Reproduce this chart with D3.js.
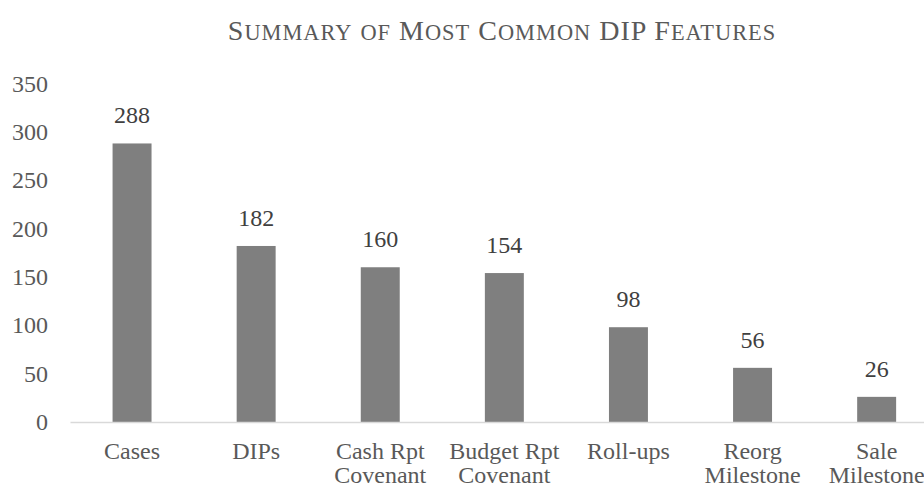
<!DOCTYPE html>
<html>
<head>
	<title>DIP Features</title>
	<meta charset="UTF-8">
	<script src="https://d3js.org/d3.v7.min.js"></script>
	<style type="text/css">
		body { margin: 0; background: #fff; }
		text { font-family: "Liberation Serif", "Times New Roman", serif; }
		.axis text { fill: #595959; font-size: 24px; }
		.x.axis path { stroke: #d9d9d9; stroke-width: 1.5; }
	</style>
</head>
<body>
<script type="text/javascript">

	// chart data
	var categories = ["Cases", "DIPs", "Cash Rpt\nCovenant", "Budget Rpt\nCovenant", "Roll-ups", "Reorg\nMilestone", "Sale\nMilestone"];
	var counts = [288, 182, 160, 154, 98, 56, 26];
	var yTicks = [0, 50, 100, 150, 200, 250, 300, 350];

	var width = 924, height = 487;
	var plotLeft = 70, step = 124.1, base = 422, plotTop = 83.5;

	var svg = d3.select("body").append("svg")
		.attr("width", width)
		.attr("height", height);

	//=======SCALE======================================================================
	var x = d3.scaleBand()
		.domain(categories)
		.range([plotLeft, plotLeft + step * categories.length])
		.padding(0);

	var y = d3.scaleLinear()
		.domain([0, 350])
		.range([base, plotTop]);

	var barW = x.bandwidth() * 0.314;

	//======TITLE======================================================================
	// small caps done by hand: first letters big, rest smaller uppercase
	var title = svg.append("text")
		.attr("x", 502)
		.attr("y", 40)
		.attr("text-anchor", "middle")
		.attr("letter-spacing", 1)
		.attr("fill", "#595959");
	var words = ["Summary", "of", "Most", "Common", "DIP", "Features"];
	words.forEach(function(w, i) {
		var big = (w == "DIP") ? w : (w == "of" ? "" : w[0]);
		var rest = w.slice(big.length).toUpperCase();
		if (big) title.append("tspan").attr("font-size", 28).text((i > 0 ? " " : "") + big);
		else title.append("tspan").attr("font-size", 28).text(" ");
		if (rest) title.append("tspan").attr("font-size", 22.4).text(rest);
	});

	//====AXES================================================================
	var xAxis = svg.append("g")
		.attr("class", "x axis")
		.attr("transform", "translate(0," + base + ")")
		.call(d3.axisBottom(x).tickSize(0).tickSizeOuter(0));

	xAxis.selectAll(".tick text").each(function(d) {
		var t = d3.select(this).text(null).attr("y", 0).attr("dy", null);
		d.split("\n").forEach(function(line, i) {
			t.append("tspan").attr("x", 0).attr("y", 37 + i * 24).text(line);
		});
	});

	var yAxis = svg.append("g")
		.attr("class", "y axis")
		.attr("transform", "translate(" + plotLeft + ",0)")
		.call(d3.axisLeft(y).tickValues(yTicks).tickSize(0).tickPadding(22));
	yAxis.select(".domain").remove();

	//==BARS==================================================================
	var data = categories.map(function(c, i) { return {cat: c, val: counts[i]}; });

	svg.selectAll(".bar")
		.data(data)
		.enter().append("rect")
		.attr("class", "bar")
		.attr("x", function(d) { return x(d.cat) + (x.bandwidth() - barW) / 2; })
		.attr("y", function(d) { return y(d.val); })
		.attr("width", barW)
		.attr("height", function(d) { return base - y(d.val); })
		.attr("fill", "#7f7f7f");

	svg.selectAll(".lbl")
		.data(data)
		.enter().append("text")
		.attr("class", "lbl")
		.attr("x", function(d) { return x(d.cat) + x.bandwidth() / 2; })
		.attr("y", function(d) { return y(d.val) - 20; })
		.attr("text-anchor", "middle")
		.attr("font-size", 24)
		.attr("fill", "#404040")
		.text(function(d) { return d.val; });

	// axis line drawn over bar bottoms
	xAxis.raise();

</script>
</body>
</html>
